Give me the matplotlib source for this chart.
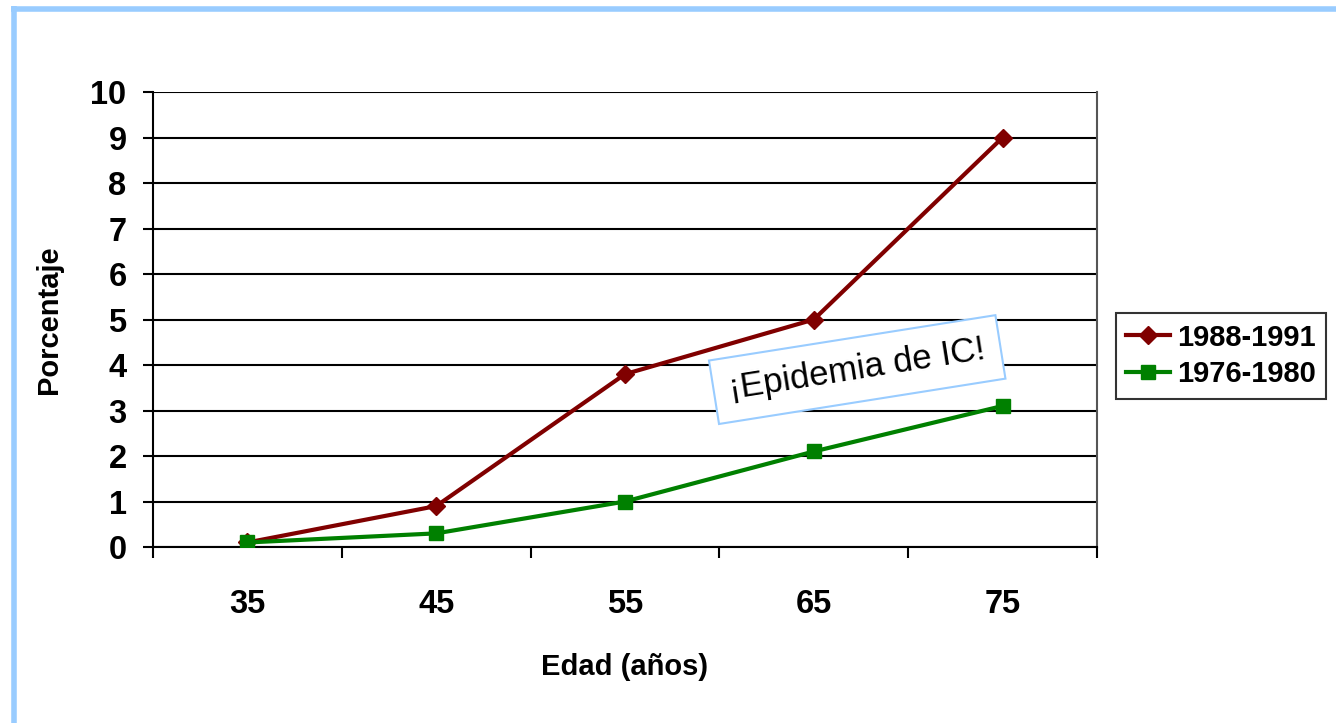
import matplotlib
matplotlib.use("Agg")
import matplotlib.pyplot as plt
from matplotlib.lines import Line2D

# age groups and prevalence (%) for each survey period
edades = ["35", "45", "55", "65", "75"]
periodo_reciente = [0.1, 0.9, 3.8, 5.0, 9.0]
periodo_antiguo = [0.1, 0.3, 1.0, 2.1, 3.1]
nombres = ["1988-1991", "1976-1980"]
y_ticks = list(range(0, 11))

plt.rcParams["font.family"] = ["Liberation Sans", "DejaVu Sans"]

fig = plt.figure(figsize=(13.36, 7.23), dpi=100)
ax = fig.add_axes([0.1145, 0.2434, 0.7066, 0.6293])

x = list(range(len(edades)))
ax.plot(x, periodo_reciente, color="#800000", lw=3, marker="D", ms=9,
        label=nombres[0], zorder=3)
ax.plot(x, periodo_antiguo, color="#008000", lw=3, marker="s", ms=10,
        label=nombres[1], zorder=3)

ax.set_xlim(-0.5, len(edades) - 0.5)
ax.set_ylim(0, 10)

# category axis: labels centred, ticks on the boundaries
ax.set_xticks(x)
ax.set_xticklabels(edades, fontsize=23.5, fontweight="bold")
ax.set_xticks([i - 0.5 for i in range(len(edades) + 1)], minor=True)
ax.tick_params(axis="x", which="major", length=0, pad=30)
ax.tick_params(axis="x", which="minor", length=8, width=1.5, color="black")

ax.set_yticks(y_ticks)
ax.set_yticklabels([str(v) for v in y_ticks], fontsize=23.5, fontweight="bold")
ax.tick_params(axis="y", length=7, width=1.5, pad=12)

ax.yaxis.grid(True, color="black", lw=1.5)
ax.set_axisbelow(True)
for side in ["left", "bottom"]:
    ax.spines[side].set_linewidth(1.5)
ax.spines["top"].set_visible(False)
ax.spines["right"].set_color("#555555")
ax.spines["right"].set_linewidth(1.5)

ax.set_xlabel("Edad (años)", fontsize=21, fontweight="bold", labelpad=24)
ax.set_ylabel("Porcentaje", fontsize=21, fontweight="bold", labelpad=20)

ax.text(3.23, 3.9, "¡Epidemia de IC!", fontsize=25, rotation=9,
        rotation_mode="anchor", ha="center", va="center", zorder=4,
        bbox=dict(boxstyle="square,pad=0.45", facecolor="white",
                  edgecolor="#99ccff", linewidth=1.5))

leg = ax.legend(loc="center left", bbox_to_anchor=(1.02, 0.42),
                prop={"weight": "bold", "size": 21},
                frameon=True, fancybox=False, edgecolor="black",
                handlelength=1.5, handletextpad=0.25, borderpad=0.35,
                labelspacing=0.3, borderaxespad=0)
leg.get_frame().set_linewidth(1.5)

# light blue frame along the top and left edges
fig.add_artist(Line2D([11 / 1336, 1], [1 - 8.5 / 723, 1 - 8.5 / 723],
                      color="#99ccff", lw=4, solid_capstyle="butt",
                      transform=fig.transFigure))
fig.add_artist(Line2D([13.5 / 1336, 13.5 / 1336], [0, 1 - 6 / 723],
                      color="#99ccff", lw=4, solid_capstyle="butt",
                      transform=fig.transFigure))

fig.savefig("out.png", dpi=100, facecolor="white")
